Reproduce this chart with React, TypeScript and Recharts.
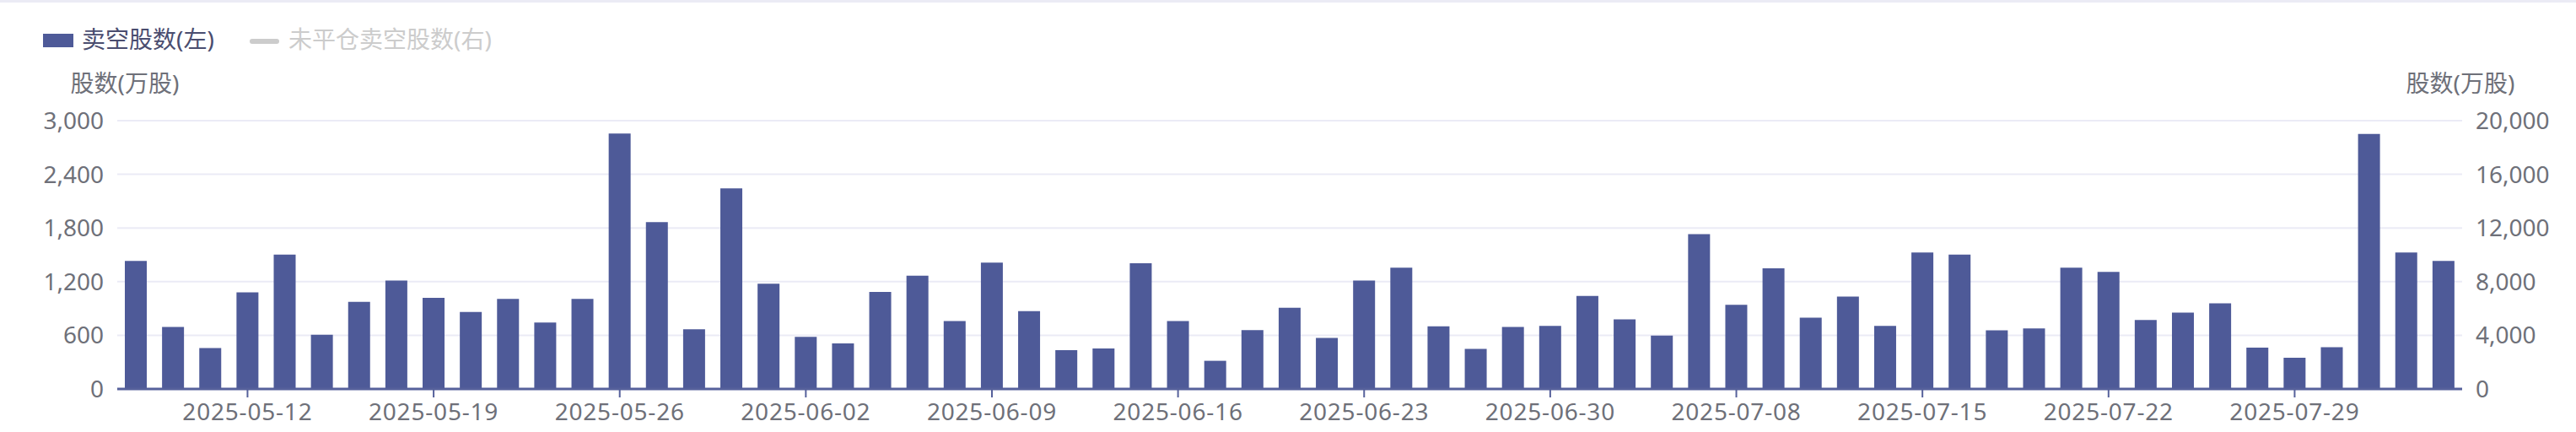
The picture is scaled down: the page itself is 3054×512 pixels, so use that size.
import React from "react";
import { BarChart, Bar, XAxis, YAxis, CartesianGrid, Legend } from "recharts";

const dates = [
  "2025-05-07", "2025-05-08", "2025-05-09", "2025-05-12", "2025-05-13",
  "2025-05-14", "2025-05-15", "2025-05-16", "2025-05-19", "2025-05-20",
  "2025-05-21", "2025-05-22", "2025-05-23", "2025-05-26", "2025-05-27",
  "2025-05-28", "2025-05-29", "2025-05-30", "2025-06-02", "2025-06-03",
  "2025-06-04", "2025-06-05", "2025-06-06", "2025-06-09", "2025-06-10",
  "2025-06-11", "2025-06-12", "2025-06-13", "2025-06-16", "2025-06-17",
  "2025-06-18", "2025-06-19", "2025-06-20", "2025-06-23", "2025-06-24",
  "2025-06-25", "2025-06-26", "2025-06-27", "2025-06-30", "2025-07-02",
  "2025-07-03", "2025-07-04", "2025-07-07", "2025-07-08", "2025-07-09",
  "2025-07-10", "2025-07-11", "2025-07-14", "2025-07-15", "2025-07-16",
  "2025-07-17", "2025-07-18", "2025-07-21", "2025-07-22", "2025-07-23",
  "2025-07-24", "2025-07-25", "2025-07-28", "2025-07-29", "2025-07-30",
  "2025-07-31", "2025-08-01", "2025-08-04",
];

// 卖空股数 (万股)
const shortShares = [
  1431, 693, 457, 1081, 1503, 605, 974, 1213, 1018, 860,
  1008, 744, 1008, 2855, 1865, 668, 2244, 1178, 583, 510,
  1084, 1267, 759, 1412, 870, 435, 454, 1405, 759, 315,
  659, 907, 570, 1213, 1355, 700, 447, 693, 706, 1040,
  778, 596, 1730, 942, 1349, 797, 1034, 706, 1525, 1503,
  655, 677, 1355, 1308, 772, 854, 958, 463, 350, 466,
  2852, 1525, 1431,
];

const xTickLabels = [
  "2025-05-12", "2025-05-19", "2025-05-26", "2025-06-02", "2025-06-09",
  "2025-06-16", "2025-06-23", "2025-06-30", "2025-07-08", "2025-07-15",
  "2025-07-22", "2025-07-29",
];
const leftTicks = [0, 600, 1200, 1800, 2400, 3000];
const rightTicks = [0, 4000, 8000, 12000, 16000, 20000];
const seriesNames = ["卖空股数(左)", "未平仓卖空股数(右)"];
const axisName = "股数(万股)";

const data = dates.map((date, i) => ({ date, shortShares: shortShares[i] }));

const FONT = "'Noto Sans', 'Noto Sans CJK SC', sans-serif";
const BAR = "#4e5a98";
const AXIS = "#56619b";
const LABEL = "#6e7079";
const GRID = "#ebebf6";
const INACTIVE = "#cccccc";

const fmt = (v: number) => v.toLocaleString("en-US");

function DateTick(props: any) {
  const { x, y, payload } = props;
  if (!xTickLabels.includes(payload.value)) return <g />;
  return (
    <g>
      <line x1={x} x2={x} y1={y - 17} y2={y - 7} stroke={AXIS} strokeWidth={2} />
      <text
        x={x}
        y={y}
        dy="0.71em"
        textAnchor="middle"
        fill={LABEL}
        fontSize={28}
        letterSpacing={0.8}
        fontFamily={FONT}
      >
        {payload.value}
      </text>
    </g>
  );
}

function AxisName({ viewBox, side }: any) {
  const vb = viewBox ?? (side === "left" ? { x: 0, y: 143, width: 139 } : { x: 2919, y: 143, width: 135 });
  const x = side === "left" ? vb.x + vb.width + 9 : vb.x - 2;
  return (
    <text x={x} y={vb.y - 34} textAnchor="middle" fill={LABEL} fontSize={28} fontFamily={FONT}>
      {axisName}
    </text>
  );
}

function LegendBox() {
  const text: React.CSSProperties = {
    position: "absolute",
    top: 32,
    fontSize: 28,
    lineHeight: "28px",
    fontFamily: FONT,
    whiteSpace: "nowrap",
  };
  return (
    <div style={{ position: "relative", width: 3054, height: 60 }}>
      <div style={{ position: "absolute", left: 51, top: 40, width: 36, height: 16, background: BAR }} />
      <span style={{ ...text, left: 97, color: "#4a4d6f" }}>{seriesNames[0]}</span>
      <div
        style={{
          position: "absolute",
          left: 296,
          top: 46,
          width: 35,
          height: 6,
          borderRadius: 3,
          background: INACTIVE,
        }}
      />
      <span style={{ ...text, left: 342, color: INACTIVE }}>{seriesNames[1]}</span>
    </div>
  );
}

export default function App() {
  return (
    <div style={{ position: "relative", width: 3054, height: 512, background: "#fff" }}>
      <style>{`body{margin:0;}`}</style>
      <div style={{ position: "absolute", left: 0, top: 0, width: 3054, height: 3, background: "#ebebf5" }} />
      <BarChart
        width={3054}
        height={512}
        data={data}
        margin={{ top: 83, right: 0, bottom: 11, left: 0 }}
        barSize={26}
      >
        <CartesianGrid yAxisId="left" vertical={false} stroke={GRID} strokeWidth={2} />
        <Legend
          verticalAlign="top"
          align="left"
          content={() => <LegendBox />}
          wrapperStyle={{ top: 0, left: 0, width: 3054 }}
        />
        <XAxis
          dataKey="date"
          interval={0}
          height={40}
          tickSize={10}
          tickMargin={7}
          tickLine={false}
          axisLine={{ stroke: AXIS, strokeWidth: 3 }}
          tick={<DateTick />}
        />
        <YAxis
          yAxisId="left"
          orientation="left"
          width={139}
          domain={[0, 3000]}
          ticks={leftTicks}
          tickFormatter={fmt}
          tickLine={false}
          axisLine={false}
          tickSize={0}
          tickMargin={16}
          tick={{ fill: LABEL, fontSize: 28, fontFamily: FONT }}
          label={{ content: (p: any) => <AxisName {...p} side="left" /> }}
        />
        <YAxis
          yAxisId="right"
          orientation="right"
          width={135}
          domain={[0, 20000]}
          allowDataOverflow
          ticks={rightTicks}
          tickFormatter={fmt}
          tickLine={false}
          axisLine={false}
          tickSize={0}
          tickMargin={16}
          tick={{ fill: LABEL, fontSize: 28, fontFamily: FONT, textAnchor: "start" }}
          label={{ content: (p: any) => <AxisName {...p} side="right" /> }}
        />
        <Bar
          yAxisId="left"
          dataKey="shortShares"
          name={seriesNames[0]}
          fill={BAR}
          isAnimationActive={false}
        />
      </BarChart>
    </div>
  );
}
